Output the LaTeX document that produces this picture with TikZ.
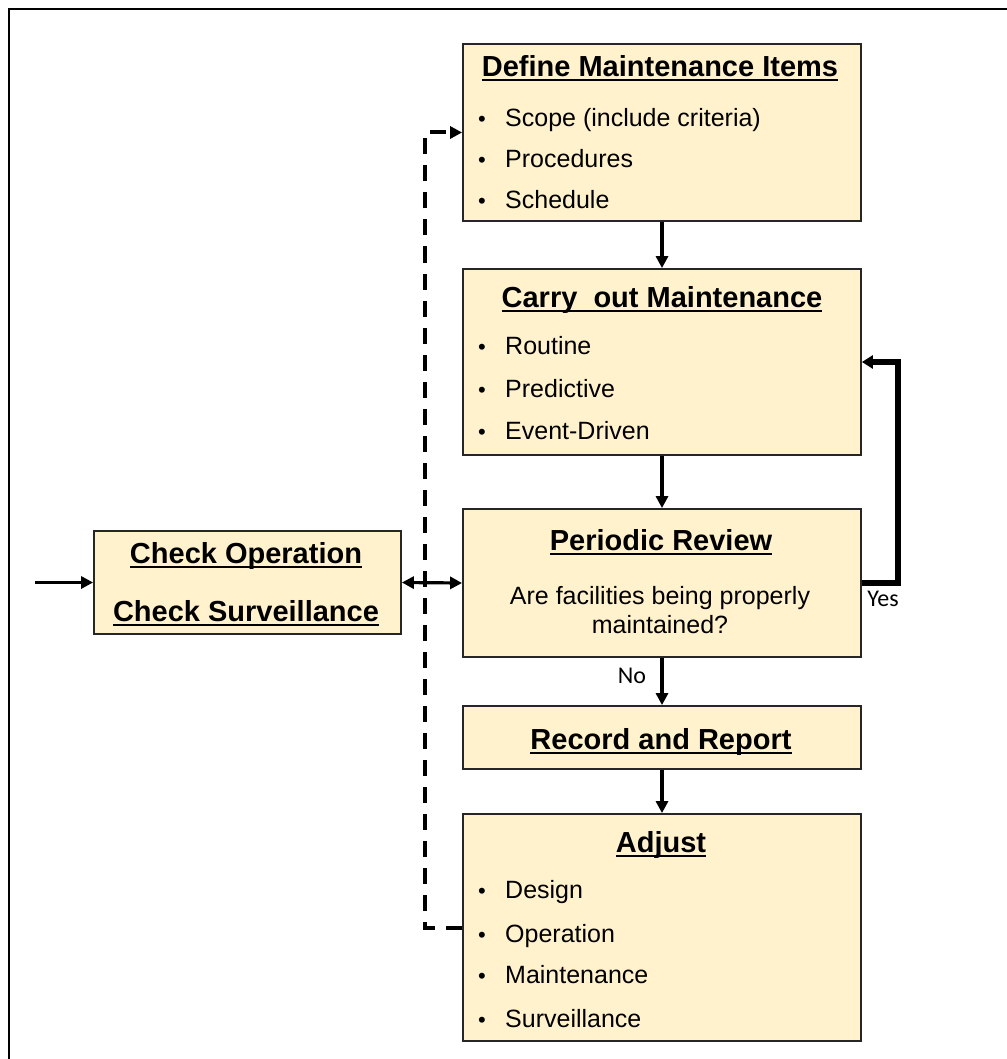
\documentclass[tikz,border=0pt]{standalone}
\usepackage{fontspec}
\setmainfont{Liberation Sans}
\newfontfamily\lblfont{Carlito}
\usetikzlibrary{arrows.meta}
\definecolor{boxfill}{HTML}{FFF2CC}
\newcommand\ttlu[1]{\setbox0\hbox{#1}\rlap{\rule[-4.5pt]{\wd0}{2pt}}\box0}
\tikzset{
  stepbox/.style={draw=black!85, line width=1.8pt, fill=boxfill, inner sep=0pt},
  ttl/.style={anchor=base, inner sep=0pt, font=\fontsize{29}{34}\selectfont\bfseries},
  bodytxt/.style={anchor=base west, inner sep=0pt, font=\fontsize{25}{30}\selectfont},
  ctrtxt/.style={anchor=base, inner sep=0pt, font=\fontsize{25}{30}\selectfont},
  bul/.style={anchor=base, inner sep=0pt, font=\fontsize{22}{24}\selectfont},
  lbl/.style={inner sep=0pt, font=\lblfont\fontsize{24}{28}\selectfont},
  conn/.style={line width=3.2pt, -{Triangle[length=12pt,width=12pt]}},
  yesline/.style={line width=5.5pt, -{Triangle[length=11pt,width=13pt]}},
  dashline/.style={line width=4pt, dash pattern=on 16pt off 11pt, -{Triangle[length=12pt,width=12pt]}},
  both/.style={line width=3.2pt, {Triangle[length=12pt,width=12pt]}-{Triangle[length=12pt,width=12pt]}}
}
\begin{document}
\begin{tikzpicture}[x=1pt,y=-1pt]
\useasboundingbox (0,0) rectangle (1006,1059);
% frame (cut at right and bottom)
\draw[line width=2.2pt] (9,1060) -- (9,9) -- (1007,9);

% boxes
\node[stepbox, minimum width=398pt, minimum height=177pt] (def) at (662,132.5) {};
\node[stepbox, minimum width=398pt, minimum height=186pt] (car) at (662,362) {};
\node[stepbox, minimum width=398pt, minimum height=148pt] (rev) at (662,583) {};
\node[stepbox, minimum width=398pt, minimum height=63pt] (rec) at (662,737.5) {};
\node[stepbox, minimum width=398pt, minimum height=227pt] (adj) at (662,927.5) {};
\node[stepbox, minimum width=307pt, minimum height=103pt] (chk) at (247.5,582.5) {};

% Define Maintenance Items
\node[ttl] (def-t) at (660,77) {\ttlu{Define Maintenance Items}};
\node[bul] (def-b1) at (482,127) {•};
\node[bodytxt] (def-1) at (505,127) {Scope (include criteria)};
\node[bul] (def-b2) at (482,168) {•};
\node[bodytxt] (def-2) at (505,168) {Procedures};
\node[bul] (def-b3) at (482,209) {•};
\node[bodytxt] (def-3) at (505,209) {Schedule};

% Carry out Maintenance
\node[ttl] (car-t) at (662,307) {\ttlu{Carry\ \ out Maintenance}};
\node[bul] (car-b1) at (482,354) {•};
\node[bodytxt] (car-1) at (505,354) {Routine};
\node[bul] (car-b2) at (482,397) {•};
\node[bodytxt] (car-2) at (505,397) {Predictive};
\node[bul] (car-b3) at (482,439) {•};
\node[bodytxt] (car-3) at (505,439) {Event-Driven};

% Periodic Review
\node[ttl] (rev-t) at (661,550) {\ttlu{Periodic Review}};
\node[ctrtxt] (rev-1) at (660,604) {Are facilities being properly};
\node[ctrtxt] (rev-2) at (660,633) {maintained?};

% Record and Report
\node[ttl] (rec-t) at (661,749) {\ttlu{Record and Report}};

% Adjust
\node[ttl] (adj-t) at (661,852) {\ttlu{Adjust}};
\node[bul] (adj-b1) at (482,898) {•};
\node[bodytxt] (adj-1) at (505,898) {Design};
\node[bul] (adj-b2) at (482,942) {•};
\node[bodytxt] (adj-2) at (505,942) {Operation};
\node[bul] (adj-b3) at (482,983) {•};
\node[bodytxt] (adj-3) at (505,983) {Maintenance};
\node[bul] (adj-b4) at (482,1027) {•};
\node[bodytxt] (adj-4) at (505,1027) {Surveillance};

% Check box
\node[ttl] (chk-1) at (246,563) {\ttlu{Check Operation}};
\node[ttl] (chk-2) at (246,621) {\ttlu{Check Surveillance}};

% labels
\node[lbl] (no) at (632,676) {No};
\node[lbl] (yes) at (883,599) {Yes};

% connectors
\draw[conn] (def.south) -- (car.north);
\draw[conn] (car.south) -- (rev.north);
\draw[conn] (rev.south) -- (rec.north);
\draw[conn] (rec.south) -- (adj.north);
\draw[yesline] (rev.east) -- ++(36,0) |- (car.east);
\draw[dashline] (adj.west) -- ++(-37,0) |- (def.west);
\draw[both] (chk.east) -- (rev.west);
\coordinate (inp) at (35,582.5);
\draw[conn] (inp) -- (chk.west);
\end{tikzpicture}
\end{document}
